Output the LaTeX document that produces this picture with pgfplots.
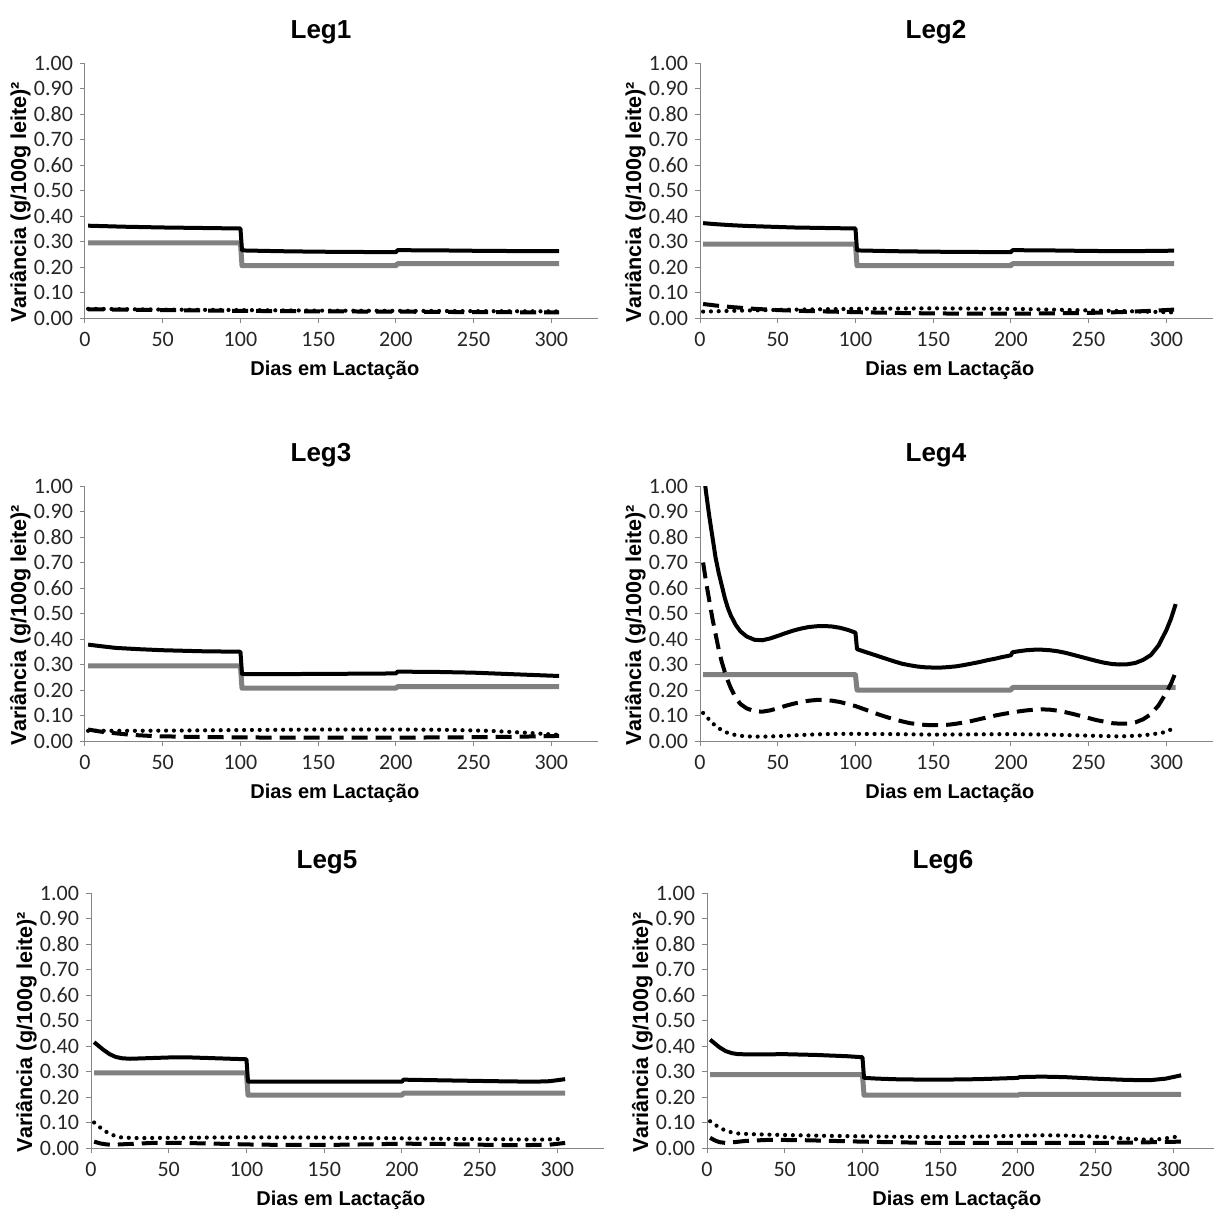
\documentclass[border=0pt]{standalone}
\usepackage{fontspec}
\setmainfont{Liberation Sans}
\newfontfamily\calibri{Carlito}
\usepackage{pgfplots}
\pgfplotsset{compat=1.18}
\definecolor{axisgray}{HTML}{868686}
\definecolor{linegray}{HTML}{808080}
\pgfplotsset{
  leg/.style={
    anchor=origin, scale only axis, width=256.5pt, height=127.5pt,
    xmin=0, xmax=330, ymin=0, ymax=1,
    axis lines=left, axis line style={draw=axisgray, line width=0.5pt, -},
    xtick={0,50,100,150,200,250,300},
    ytick={0,0.1,0.2,0.3,0.4,0.5,0.6,0.7,0.8,0.9,1.0},
    tick align=outside, major tick length=2.5pt,
    tick style={draw=axisgray, line width=0.5pt},
    /pgf/number format/assume math mode=true,
    yticklabel style={/pgf/number format/.cd, fixed, fixed zerofill, precision=2},
    xticklabel style={yshift=-1pt},
    tick label style={font=\calibri\fontsize{11}{12}\selectfont, text=black!85},
    title style={at={(axis description cs:0.46,1)}, anchor=base, yshift=6.5pt,
                 font=\bfseries\fontsize{13}{15}\selectfont},
    xlabel={Dias em Lactação},
    ylabel={Variância (g/100g leite)²},
    xlabel style={at={(axis description cs:0.487,0)}, anchor=base, yshift=-28.5pt,
                  font=\bfseries\fontsize{10}{12}\selectfont},
    ylabel style={at={(axis description cs:-0.115,0.455)}, anchor=base,
                  font=\bfseries\fontsize{10.8}{12}\selectfont},
    line join=round,
  },
  blk/.style={black, line width=2pt},
  gry/.style={linegray, line width=2.5pt},
  dsh/.style={black, line width=2pt, dash pattern=on 8pt off 4pt},
  dot/.style={black, line width=2.1pt, line cap=round, dash pattern=on 0pt off 3.9pt},
}

\begin{document}
\begin{tikzpicture}
\path[use as bounding box] (0,0) rectangle (607pt,-607pt);

% Leg1
\begin{axis}[leg, at={(42.5pt,-159pt)}, title={Leg1}]
\addplot[gry] coordinates {(2,0.295)(100,0.295)(101,0.205)(200,0.205)(201,0.213)(305,0.213)};
\addplot[dot] coordinates {(2,0.036)(50,0.033)(100,0.031)(150,0.029)(200,0.028)(250,0.027)(305,0.026)};
\addplot[dsh] coordinates {(2,0.034)(50,0.031)(100,0.028)(150,0.026)(200,0.025)(250,0.023)(305,0.022)};
\addplot[blk] coordinates {(2,0.362)(25,0.358)(50,0.355)(75,0.353)(100,0.351)(101,0.265)(125,0.262)(150,0.260)(175,0.259)(200,0.258)(201,0.266)(230,0.265)(260,0.263)(305,0.262)};
\end{axis}

% Leg2
\begin{axis}[leg, at={(350pt,-159pt)}, title={Leg2}]
\addplot[gry] coordinates {(2,0.290)(100,0.290)(101,0.205)(200,0.205)(201,0.213)(305,0.213)};
\addplot[dot] coordinates {(2,0.025)(20,0.028)(50,0.032)(100,0.036)(150,0.038)(200,0.036)(250,0.030)(280,0.026)(305,0.022)};
\addplot[dsh] coordinates {(2,0.055)(10,0.049)(20,0.043)(35,0.036)(50,0.031)(70,0.027)(100,0.023)(125,0.020)(150,0.018)(175,0.017)(200,0.017)(225,0.018)(250,0.020)(270,0.023)(290,0.028)(305,0.033)};
\addplot[blk] coordinates {(2,0.372)(10,0.368)(20,0.364)(30,0.361)(45,0.358)(60,0.355)(80,0.353)(100,0.351)(101,0.265)(125,0.262)(150,0.260)(175,0.259)(200,0.258)(201,0.266)(225,0.265)(250,0.263)(275,0.262)(305,0.264)};
\end{axis}

% Leg3
\begin{axis}[leg, at={(42.5pt,-370.5pt)}, title={Leg3}]
\addplot[gry] coordinates {(2,0.295)(100,0.295)(101,0.207)(200,0.207)(201,0.213)(305,0.213)};
\addplot[dot] coordinates {(2,0.040)(30,0.040)(60,0.041)(100,0.043)(150,0.045)(200,0.045)(230,0.044)(260,0.040)(285,0.032)(305,0.024)};
\addplot[dsh] coordinates {(2,0.045)(10,0.037)(20,0.030)(30,0.024)(45,0.019)(70,0.016)(100,0.014)(150,0.013)(200,0.013)(250,0.015)(280,0.017)(305,0.020)};
\addplot[blk] coordinates {(2,0.378)(10,0.372)(20,0.365)(35,0.360)(50,0.356)(75,0.352)(100,0.350)(101,0.262)(150,0.263)(200,0.265)(201,0.272)(225,0.271)(250,0.268)(275,0.262)(305,0.255)};
\end{axis}

% Leg4
\begin{axis}[leg, at={(350pt,-370.5pt)}, title={Leg4}]
\addplot[gry] coordinates {(2,0.26)(100,0.26)(101,0.20)(200,0.20)(201,0.21)(306,0.21)};
\addplot[dot] coordinates {(2,0.110)(5,0.090)(8,0.070)(12,0.050)(16,0.036)(20,0.027)(25,0.021)(30,0.018)(40,0.017)(50,0.019)(60,0.022)(70,0.025)(80,0.027)(90,0.028)(100,0.028)(125,0.027)(150,0.025)(175,0.026)(200,0.027)(225,0.025)(250,0.021)(270,0.018)(285,0.022)(295,0.030)(300,0.036)(306,0.055)};
\addplot[dsh] coordinates {(2,0.70)(4,0.62)(6,0.55)(8,0.48)(10,0.42)(12,0.36)(14,0.31)(16,0.27)(18,0.235)(20,0.205)(23,0.17)(26,0.145)(30,0.128)(35,0.117)(40,0.115)(45,0.12)(50,0.128)(55,0.138)(60,0.146)(65,0.153)(70,0.158)(75,0.161)(80,0.161)(85,0.158)(90,0.153)(95,0.145)(100,0.137)(105,0.126)(110,0.115)(115,0.104)(120,0.094)(125,0.085)(130,0.077)(135,0.070)(140,0.066)(145,0.063)(150,0.062)(155,0.062)(160,0.064)(165,0.068)(170,0.073)(175,0.079)(180,0.086)(185,0.093)(190,0.100)(195,0.106)(200,0.111)(205,0.116)(210,0.120)(215,0.123)(220,0.124)(225,0.123)(230,0.119)(235,0.113)(240,0.106)(245,0.098)(250,0.090)(255,0.082)(260,0.076)(265,0.070)(270,0.068)(275,0.068)(280,0.073)(285,0.085)(290,0.105)(295,0.140)(300,0.190)(303,0.225)(306,0.270)};
\addplot[blk] coordinates {(2,1.07)(4,0.97)(6,0.88)(8,0.80)(10,0.72)(12,0.66)(14,0.61)(16,0.56)(18,0.52)(20,0.49)(23,0.455)(26,0.43)(30,0.41)(35,0.397)(40,0.395)(45,0.402)(50,0.412)(55,0.423)(60,0.433)(65,0.441)(70,0.447)(75,0.450)(80,0.451)(85,0.449)(90,0.444)(95,0.436)(100,0.425)(101,0.360)(105,0.352)(110,0.342)(115,0.332)(120,0.322)(125,0.312)(130,0.303)(135,0.297)(140,0.292)(145,0.289)(150,0.288)(155,0.288)(160,0.290)(165,0.293)(170,0.298)(175,0.304)(180,0.310)(185,0.317)(190,0.323)(195,0.330)(200,0.336)(201,0.348)(205,0.352)(210,0.356)(215,0.358)(220,0.358)(225,0.356)(230,0.352)(235,0.346)(240,0.338)(245,0.330)(250,0.322)(255,0.314)(260,0.307)(265,0.302)(270,0.300)(275,0.301)(280,0.306)(285,0.318)(290,0.337)(295,0.375)(300,0.435)(303,0.480)(306,0.537)};
\end{axis}

% Leg5
\begin{axis}[leg, at={(45.5pt,-574pt)}, title={Leg5}]
\addplot[gry] coordinates {(2,0.295)(100,0.295)(101,0.207)(200,0.207)(201,0.215)(305,0.215)};
\addplot[dot] coordinates {(2,0.100)(5,0.085)(8,0.070)(12,0.056)(16,0.046)(20,0.041)(30,0.039)(50,0.040)(75,0.041)(100,0.042)(150,0.041)(200,0.038)(250,0.035)(290,0.033)(305,0.036)};
\addplot[dsh] coordinates {(2,0.025)(6,0.018)(10,0.014)(15,0.013)(25,0.016)(40,0.020)(55,0.020)(75,0.018)(100,0.014)(125,0.012)(150,0.012)(175,0.014)(200,0.017)(225,0.016)(250,0.013)(275,0.011)(295,0.013)(305,0.020)};
\addplot[blk] coordinates {(2,0.415)(5,0.400)(8,0.385)(12,0.368)(16,0.357)(20,0.352)(25,0.350)(35,0.352)(50,0.355)(65,0.355)(80,0.352)(90,0.350)(100,0.348)(101,0.260)(150,0.260)(200,0.260)(201,0.268)(230,0.265)(260,0.262)(285,0.260)(295,0.262)(305,0.270)};
\end{axis}

% Leg6
\begin{axis}[leg, at={(353.5pt,-574pt)}, title={Leg6}]
\addplot[gry] coordinates {(2,0.288)(100,0.288)(101,0.207)(200,0.207)(201,0.210)(305,0.210)};
\addplot[dot] coordinates {(2,0.105)(5,0.092)(8,0.080)(12,0.068)(16,0.061)(20,0.057)(30,0.054)(50,0.051)(75,0.048)(100,0.046)(125,0.044)(150,0.043)(175,0.045)(200,0.048)(215,0.050)(230,0.049)(250,0.045)(265,0.039)(280,0.033)(290,0.034)(300,0.042)(305,0.049)};
\addplot[dsh] coordinates {(2,0.040)(5,0.030)(8,0.023)(12,0.020)(16,0.022)(25,0.028)(40,0.032)(60,0.031)(80,0.028)(100,0.025)(125,0.022)(150,0.020)(175,0.020)(200,0.020)(250,0.020)(280,0.022)(305,0.025)};
\addplot[blk] coordinates {(2,0.425)(5,0.410)(8,0.395)(12,0.380)(16,0.372)(20,0.368)(30,0.367)(50,0.368)(70,0.365)(90,0.360)(100,0.356)(101,0.275)(110,0.272)(125,0.269)(150,0.268)(175,0.270)(200,0.275)(201,0.278)(215,0.280)(230,0.278)(250,0.272)(270,0.267)(285,0.266)(295,0.272)(305,0.285)};
\end{axis}
\end{tikzpicture}
\end{document}
